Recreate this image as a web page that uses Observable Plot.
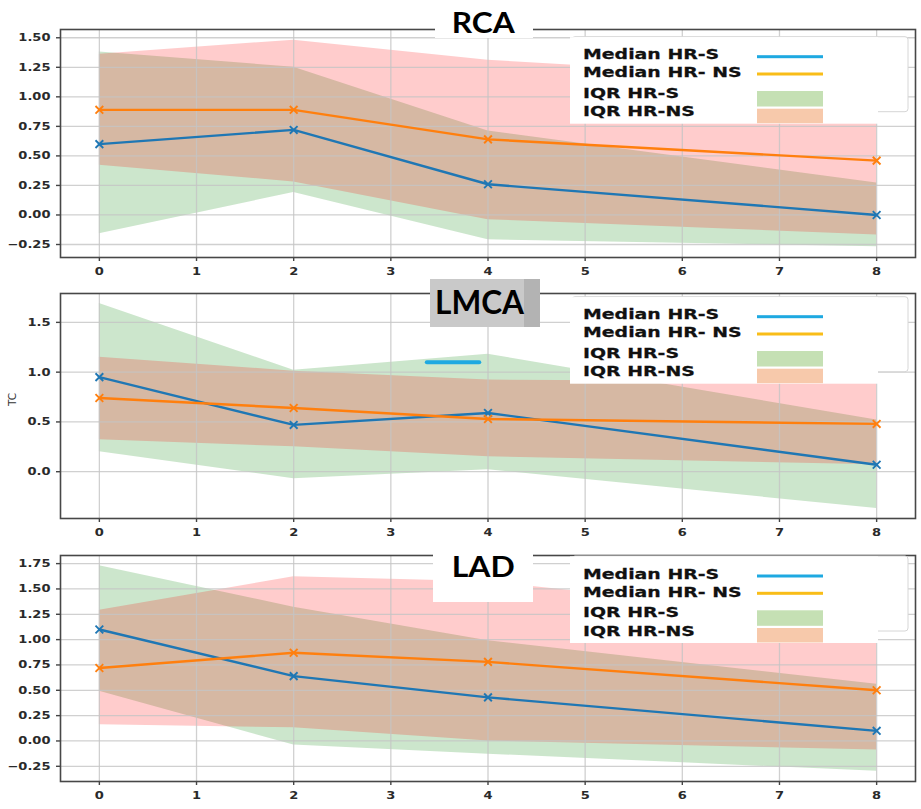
<!DOCTYPE html>
<html><head><meta charset="utf-8">
<script src="https://cdn.jsdelivr.net/npm/d3@7"></script>
<script src="https://cdn.jsdelivr.net/npm/@observablehq/plot@0.6"></script>
<style>
body{margin:0;background:#fff}
#root{position:relative;width:921px;height:809px;overflow:hidden;background:#fff}
</style></head><body><div id="root"></div>
<script>
// ---- data ----
const xTimes = [0, 2, 4, 8];
const xTicks = [0, 1, 2, 3, 4, 5, 6, 7, 8];

const rcaMedianS   = [0.60, 0.72, 0.26, 0.00];
const rcaMedianNS  = [0.89, 0.89, 0.64, 0.46];
const rcaIqrSLow   = [-0.16, 0.19, -0.21, -0.27];
const rcaIqrSHigh  = [1.38, 1.25, 0.71, 0.27];
const rcaIqrNSLow  = [0.42, 0.28, -0.04, -0.17];
const rcaIqrNSHigh = [1.36, 1.48, 1.31, 1.12];
const rcaYTicks = [-0.25, 0, 0.25, 0.5, 0.75, 1, 1.25, 1.5];

const lmcaMedianS   = [0.95, 0.47, 0.59, 0.07];
const lmcaMedianNS  = [0.74, 0.64, 0.53, 0.48];
const lmcaIqrSLow   = [0.20, -0.07, 0.02, -0.37];
const lmcaIqrSHigh  = [1.69, 1.02, 1.18, 0.52];
const lmcaIqrNSLow  = [0.32, 0.25, 0.15, 0.07];
const lmcaIqrNSHigh = [1.15, 1.01, 0.92, 0.90];
const lmcaYTicks = [0, 0.5, 1, 1.5];
const lmcaDashX = [3.37, 3.91];
const lmcaDashY = [1.10, 1.10];

const ladMedianS   = [1.10, 0.64, 0.43, 0.10];
const ladMedianNS  = [0.72, 0.87, 0.78, 0.50];
const ladIqrSLow   = [0.49, -0.04, -0.13, -0.30];
const ladIqrSHigh  = [1.73, 1.32, 0.99, 0.56];
const ladIqrNSLow  = [0.16, 0.13, 0.00, -0.09];
const ladIqrNSHigh = [1.29, 1.62, 1.57, 1.17];
const ladYTicks = [-0.25, 0, 0.25, 0.5, 0.75, 1, 1.25, 1.5, 1.75];

const panelTitles = ["RCA", "LMCA", "LAD"];
const legendLabels = ["Median HR-S", "Median HR- NS", "IQR HR-S", "IQR HR-NS"];
const yAxisLabel = "TC";

// ---- helpers ----
const fmt2 = d => (d < 0 ? "\u2212" : "") + Math.abs(d).toFixed(2);
const fmt1 = d => (d < 0 ? "\u2212" : "") + Math.abs(d).toFixed(1);
const root = document.getElementById("root");

function panel(cfg) {
  const rows = xTimes.map((x, i) => ({
    x, mS: cfg.mS[i], mNS: cfg.mNS[i],
    sLo: cfg.sLo[i], sHi: cfg.sHi[i], nLo: cfg.nLo[i], nHi: cfg.nHi[i]
  }));
  const gridStyle = {stroke: "#c4c4c4", strokeWidth: 1.3, strokeOpacity: 0.8};
  const marks = [
    Plot.areaY(rows, {x: "x", y1: "sLo", y2: "sHi", fill: "green", fillOpacity: 0.2}),
    Plot.areaY(rows, {x: "x", y1: "nLo", y2: "nHi", fill: "red", fillOpacity: 0.2}),
    Plot.ruleX(xTicks, gridStyle),
    Plot.ruleY(cfg.yTicks, gridStyle),
  ];
  if (cfg.extra) marks.push(...cfg.extra);
  marks.push(
    Plot.line(rows, {x: "x", y: "mS", stroke: "#1f77b4", strokeWidth: 2.4}),
    Plot.dot(rows, {x: "x", y: "mS", symbol: "times", stroke: "#1f77b4", r: 3.6, strokeWidth: 1.9}),
    Plot.line(rows, {x: "x", y: "mNS", stroke: "#ff7f0e", strokeWidth: 2.4}),
    Plot.dot(rows, {x: "x", y: "mNS", symbol: "times", stroke: "#ff7f0e", r: 3.6, strokeWidth: 1.9}),
    Plot.frame({stroke: "#474747", strokeWidth: 1.6})
  );
  if (cfg.yLabel) marks.push(Plot.text([cfg.yLabel], {text: d => d, frameAnchor: "left", dx: -48, rotate: -90, fontSize: 10.5, fill: "#333"}));
  const svg = Plot.plot({
    width: 921, height: cfg.height,
    marginLeft: 60, marginRight: 6, marginTop: 29, marginBottom: cfg.height - 29 - cfg.frameH,
    style: {background: "transparent", fontFamily: "'DejaVu Sans', sans-serif", fontSize: "10.5px", color: "#2a2a2a"},
    x: {domain: [-0.4, 8.4], ticks: xTicks, tickSize: 4, tickPadding: 6, tickFormat: d => String(d), label: null},
    y: {domain: cfg.yDomain, ticks: cfg.yTicks, tickSize: 4, tickPadding: 6, tickFormat: cfg.fmt, label: null},
    marks
  });
  svg.style.position = "absolute";
  svg.style.left = "0px";
  svg.style.top = cfg.top + "px";
  root.appendChild(svg);
  svg.querySelectorAll('g[aria-label$="tick label"] text').forEach(t => {
    t.setAttribute("font-weight", "bold");
    const len = t.getComputedTextLength();
    if (len > 0) { t.setAttribute("textLength", len * 1.24); t.setAttribute("lengthAdjust", "spacingAndGlyphs"); }
  });
  svg.querySelectorAll('g[aria-label$="tick"] path, g[aria-label$="tick"] line').forEach(p => {
    p.setAttribute("stroke", "#444"); p.setAttribute("stroke-width", "1.4");
  });
}

panel({top: 0, height: 285, frameH: 228, mS: rcaMedianS, mNS: rcaMedianNS, sLo: rcaIqrSLow, sHi: rcaIqrSHigh,
  nLo: rcaIqrNSLow, nHi: rcaIqrNSHigh, yDomain: [-0.36, 1.57], yTicks: rcaYTicks, fmt: fmt2});

panel({top: 264, height: 282, frameH: 225, mS: lmcaMedianS, mNS: lmcaMedianNS, sLo: lmcaIqrSLow, sHi: lmcaIqrSHigh,
  nLo: lmcaIqrNSLow, nHi: lmcaIqrNSHigh, yDomain: [-0.47, 1.79], yTicks: lmcaYTicks, fmt: fmt1, yLabel: yAxisLabel,
  extra: [Plot.line(lmcaDashX.map((x, i) => ({x, y: lmcaDashY[i]})), {x: "x", y: "y", stroke: "#1ea9e1", strokeWidth: 4})]});

panel({top: 526, height: 283, frameH: 226, mS: ladMedianS, mNS: ladMedianNS, sLo: ladIqrSLow, sHi: ladIqrSHigh,
  nLo: ladIqrNSLow, nHi: ladIqrNSHigh, yDomain: [-0.40, 1.83], yTicks: ladYTicks, fmt: fmt2});

// ---- overlay: legends and title boxes ----
const ov = d3.create("svg").attr("width", 921).attr("height", 809)
  .style("position", "absolute").style("left", "0px").style("top", "0px");
root.appendChild(ov.node());

const legendAnchors = [56.7, 316.7, 576];
const baseOff = [2.5, 20.5, 41, 59.6];
legendAnchors.forEach(a => {
  ov.append("rect").attr("x", 572).attr("y", a - 20).attr("width", 336).attr("height", 75).attr("rx", 3)
    .attr("fill", "#fff").attr("stroke", "#d6d6d6").attr("stroke-width", 1);
  ov.append("rect").attr("x", 570).attr("y", a - 19.5).attr("width", 308).attr("height", 86.5).attr("fill", "#fff");
  legendLabels.forEach((lab, i) => {
    ov.append("text").attr("transform", `translate(583,${a + baseOff[i]}) scale(1.35,1)`)
      .attr("font-family", "'DejaVu Sans', sans-serif").attr("font-weight", "bold").attr("font-size", 14)
      .attr("fill", "#111").attr("stroke", "#111").attr("stroke-width", 0.25).text(lab);
  });
  ov.append("rect").attr("x", 757).attr("y", a - 1.5).attr("width", 66).attr("height", 3).attr("fill", "#1ea9e1");
  ov.append("rect").attr("x", 757).attr("y", a + 17.3 - 1.5).attr("width", 66).attr("height", 3).attr("fill", "#f9bd18");
  ov.append("rect").attr("x", 757).attr("y", a + 34.3).attr("width", 66).attr("height", 15.5).attr("fill", "#c5e0b4");
  ov.append("rect").attr("x", 757).attr("y", a + 52).attr("width", 66).attr("height", 14.5).attr("fill", "#f7c9ab");
});

const titleBoxes = [
  {x: 435, y: 0, w: 98, h: 38, fill: "#fff", cx: 483.3, base: 33.3, fs: 28, tw: 63},
  {x: 430, y: 279, w: 110, h: 48, fill: "#c9c9c9", strip: "#b3b3b3", cx: 479.5, base: 314, fs: 32, tw: 89},
  {x: 433, y: 553, w: 100, h: 49, fill: "#fff", cx: 483.3, base: 576.7, fs: 29, tw: 63},
];
titleBoxes.forEach((b, i) => {
  ov.append("rect").attr("x", b.x).attr("y", b.y).attr("width", b.w).attr("height", b.h).attr("fill", b.fill);
  if (b.strip) ov.append("rect").attr("x", b.x + b.w - 16).attr("y", b.y).attr("width", 16).attr("height", b.h).attr("fill", b.strip);
  ov.append("text").attr("x", b.cx - b.tw / 2).attr("y", b.base)
    .attr("textLength", b.tw).attr("lengthAdjust", "spacingAndGlyphs")
    .attr("font-family", "Lato, 'Open Sans', sans-serif").attr("font-weight", "bold").attr("font-size", b.fs)
    .attr("fill", "#000").text(panelTitles[i]);
});
</script></body></html>
